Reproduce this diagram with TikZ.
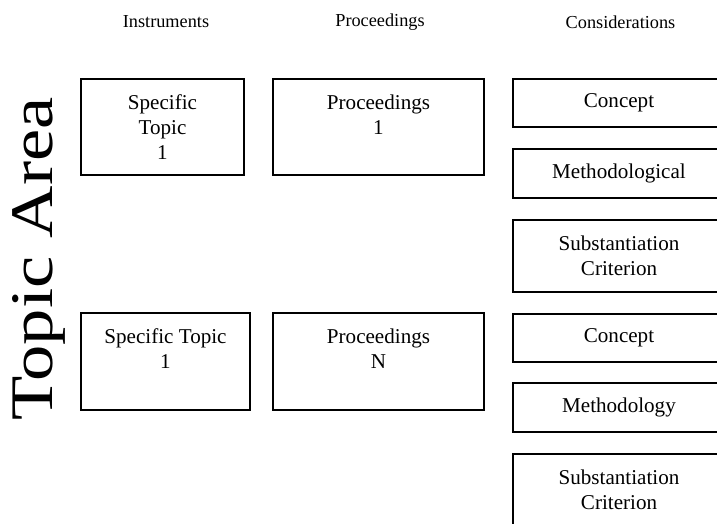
\documentclass[tikz,border=0pt]{standalone}
\usepackage{fontspec}
\setmainfont{Liberation Serif}

\begin{document}
\begin{tikzpicture}[line width=1pt, every node/.style={font=\fontsize{15}{17.8}\selectfont, align=center}]
		\tikzstyle{BoxStyle}=[draw, line width=1pt, inner sep=2pt]
		\tikzstyle{HeadStyle}=[font=\fontsize{13}{15.6}\selectfont]

		\useasboundingbox (0,0) rectangle (17.925,13.075);
		\clip (0,0) rectangle (17.925,13.075);

		% column heads
		\node at (4.15,12.525) [HeadStyle] (instruments) {Instruments};
		\node at (9.5,12.525) [HeadStyle] (proceedings) {Proceedings};
		\node at (15.5125,12.525) [HeadStyle] (considerations) {Considerations};

		\node at (1.3,6.6) [rotate=90, anchor=base, font=\fontsize{43}{50}\selectfont] (topicArea) {\scalebox{1.2}[1]{Topic Area}};

		% first topic
		\node at (4.0625,9.9) [BoxStyle, minimum width=4.075cm, minimum height=2.4cm] (topicOne) {Specific\\Topic\\1};
		\node at (9.4625,9.9) [BoxStyle, minimum width=5.275cm, minimum height=2.4cm] (procOne) {Proceedings\\1\\~};
		\node at (15.475,10.5) [BoxStyle, minimum width=5.3cm, minimum height=1.2cm] (conceptOne) {Concept};
		\node at (15.475,8.7375) [BoxStyle, minimum width=5.3cm, minimum height=1.225cm] (methodOne) {Methodological};
		\node at (15.475,6.675) [BoxStyle, minimum width=5.3cm, minimum height=1.8cm] (critOne) {Substantiation\\Criterion};

		% second topic
		\node at (4.1375,4.0375) [BoxStyle, minimum width=4.225cm, minimum height=2.425cm] (topicTwo) {Specific Topic\\1\\~};
		\node at (9.4625,4.0375) [BoxStyle, minimum width=5.275cm, minimum height=2.425cm] (procTwo) {Proceedings\\N\\~};
		\node at (15.475,4.625) [BoxStyle, minimum width=5.3cm, minimum height=1.2cm] (conceptTwo) {Concept};
		\node at (15.475,2.8875) [BoxStyle, minimum width=5.3cm, minimum height=1.225cm] (methodTwo) {Methodology};
		\node at (15.475,0.825) [BoxStyle, minimum width=5.3cm, minimum height=1.8cm] (critTwo) {Substantiation\\Criterion};
	\end{tikzpicture}
\end{document}
